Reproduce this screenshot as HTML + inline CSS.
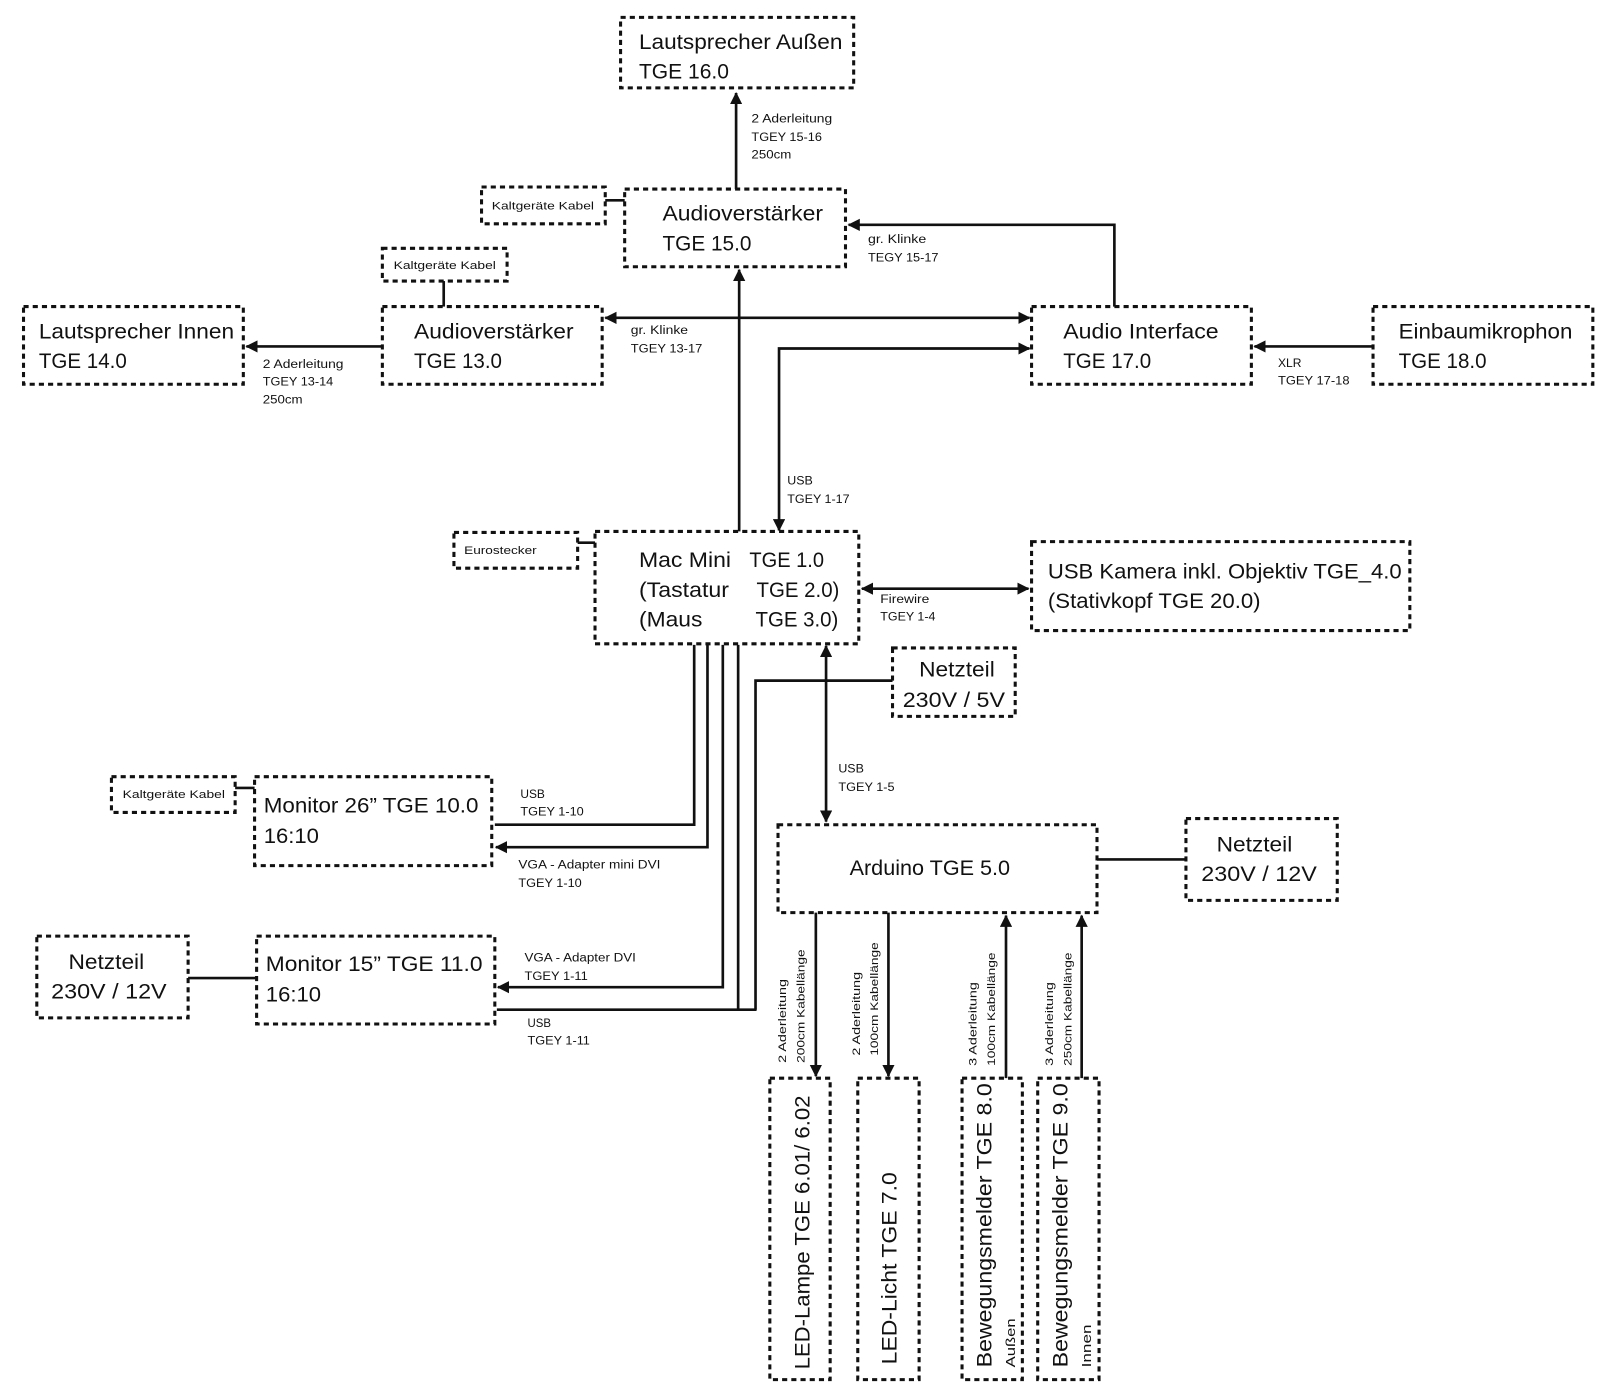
<!DOCTYPE html>
<html><head><meta charset="utf-8"><style>
html,body{margin:0;padding:0;background:#fff;}
svg{display:block;}
text{font-family:"Liberation Sans",sans-serif;fill:#111;}
.b{fill:none;stroke:#111;stroke-width:3;stroke-dasharray:5 4;}
.l{fill:none;stroke:#111;stroke-width:2.6;}
.t{font-size:20.5px;}
.s{font-size:11.5px;}
.k{font-size:11px;}
</style></head><body>
<svg width="1600" height="1396" viewBox="0 0 1565 1366" preserveAspectRatio="none" xmlns="http://www.w3.org/2000/svg">
<defs>
<marker id="h" viewBox="0 0 12 12" refX="11" refY="6" markerWidth="12" markerHeight="12" orient="auto-start-reverse" markerUnits="userSpaceOnUse"><path d="M0,0 L12,6 L0,12 z" fill="#111"/></marker>
</defs>

<rect class="b" x="607" y="17" width="228" height="69"/>
<rect class="b" x="471" y="183" width="121" height="36"/>
<rect class="b" x="611" y="185" width="216" height="76"/>
<rect class="b" x="374" y="243" width="122" height="32"/>
<rect class="b" x="23" y="300" width="215" height="76"/>
<rect class="b" x="374" y="300" width="215" height="76"/>
<rect class="b" x="1009" y="300" width="215" height="76"/>
<rect class="b" x="1343" y="300" width="215" height="76"/>
<rect class="b" x="444" y="521" width="121" height="35"/>
<rect class="b" x="582" y="520" width="258" height="110"/>
<rect class="b" x="1009" y="530" width="370" height="87"/>
<rect class="b" x="873" y="634" width="120" height="67"/>
<rect class="b" x="109" y="760" width="121" height="35"/>
<rect class="b" x="249" y="760" width="232" height="87"/>
<rect class="b" x="761" y="807" width="312" height="86"/>
<rect class="b" x="1160" y="801" width="148" height="80"/>
<rect class="b" x="36" y="916" width="148" height="80"/>
<rect class="b" x="251" y="916" width="233" height="86"/>
<rect class="b" x="753" y="1055" width="59" height="295"/>
<rect class="b" x="839" y="1055" width="60" height="295"/>
<rect class="b" x="941" y="1055" width="59" height="295"/>
<rect class="b" x="1015" y="1055" width="60" height="295"/>

<path class="l" d="M720,185 V91" marker-end="url(#h)"/>
<path class="l" d="M592,196 H611"/>
<path class="l" d="M1090,300 V220 H830" marker-end="url(#h)"/>
<path class="l" d="M434,275 V300"/>
<path class="l" d="M374,339 H241" marker-end="url(#h)"/>
<path class="l" d="M592,311 H1007" marker-start="url(#h)" marker-end="url(#h)"/>
<path class="l" d="M723,520 V264" marker-end="url(#h)"/>
<path class="l" d="M1343,339 H1227" marker-end="url(#h)"/>
<path class="l" d="M1007,341 H762 V519" marker-start="url(#h)" marker-end="url(#h)"/>
<path class="l" d="M565,531 H582"/>
<path class="l" d="M843,576 H1006" marker-start="url(#h)" marker-end="url(#h)"/>
<path class="l" d="M808,632 V804" marker-start="url(#h)" marker-end="url(#h)"/>
<path class="l" d="M873,666 H739 V988"/>
<path class="l" d="M679,631 V807 H484"/>
<path class="l" d="M692,631 V829 H485" marker-end="url(#h)"/>
<path class="l" d="M707,631 V966 H487" marker-end="url(#h)"/>
<path class="l" d="M722,631 V988"/>
<path class="l" d="M486,988 H740"/>
<path class="l" d="M230,771 H249"/>
<path class="l" d="M184,957 H251"/>
<path class="l" d="M1073,841 H1160"/>
<path class="l" d="M798,893 V1053" marker-end="url(#h)"/>
<path class="l" d="M869,893 V1053" marker-end="url(#h)"/>
<path class="l" d="M984,1055 V896" marker-end="url(#h)"/>
<path class="l" d="M1058,1055 V896" marker-end="url(#h)"/>

<g class="t">
<text x="625" y="48" textLength="199" lengthAdjust="spacingAndGlyphs">Lautsprecher Außen</text>
<text x="625" y="77" textLength="88" lengthAdjust="spacingAndGlyphs">TGE 16.0</text>
<text x="648" y="216" textLength="157" lengthAdjust="spacingAndGlyphs">Audioverstärker</text>
<text x="648" y="245" textLength="87" lengthAdjust="spacingAndGlyphs">TGE 15.0</text>
<text x="38" y="331" textLength="191" lengthAdjust="spacingAndGlyphs">Lautsprecher Innen</text>
<text x="38" y="360" textLength="86" lengthAdjust="spacingAndGlyphs">TGE 14.0</text>
<text x="405" y="331" textLength="156" lengthAdjust="spacingAndGlyphs">Audioverstärker</text>
<text x="405" y="360" textLength="86" lengthAdjust="spacingAndGlyphs">TGE 13.0</text>
<text x="1040" y="331" textLength="152" lengthAdjust="spacingAndGlyphs">Audio Interface</text>
<text x="1040" y="360" textLength="86" lengthAdjust="spacingAndGlyphs">TGE 17.0</text>
<text x="1368" y="331" textLength="170" lengthAdjust="spacingAndGlyphs">Einbaumikrophon</text>
<text x="1368" y="360" textLength="86" lengthAdjust="spacingAndGlyphs">TGE 18.0</text>
<text x="625" y="555" textLength="90" lengthAdjust="spacingAndGlyphs">Mac Mini</text>
<text x="733" y="555" textLength="73" lengthAdjust="spacingAndGlyphs">TGE 1.0</text>
<text x="625" y="584" textLength="88" lengthAdjust="spacingAndGlyphs">(Tastatur</text>
<text x="740" y="584" textLength="81" lengthAdjust="spacingAndGlyphs">TGE 2.0)</text>
<text x="625" y="613" textLength="62" lengthAdjust="spacingAndGlyphs">(Maus</text>
<text x="739" y="613" textLength="81" lengthAdjust="spacingAndGlyphs">TGE 3.0)</text>
<text x="1025" y="566" textLength="346" lengthAdjust="spacingAndGlyphs">USB Kamera inkl. Objektiv TGE_4.0</text>
<text x="1025" y="595" textLength="208" lengthAdjust="spacingAndGlyphs">(Stativkopf TGE 20.0)</text>
<text x="899" y="662" textLength="74" lengthAdjust="spacingAndGlyphs">Netzteil</text>
<text x="883" y="692" textLength="100" lengthAdjust="spacingAndGlyphs">230V / 5V</text>
<text x="258" y="795" textLength="210" lengthAdjust="spacingAndGlyphs">Monitor 26” TGE 10.0</text>
<text x="258" y="825" textLength="54" lengthAdjust="spacingAndGlyphs">16:10</text>
<text x="831" y="856" textLength="157" lengthAdjust="spacingAndGlyphs">Arduino TGE 5.0</text>
<text x="1190" y="833" textLength="74" lengthAdjust="spacingAndGlyphs">Netzteil</text>
<text x="1175" y="862" textLength="113" lengthAdjust="spacingAndGlyphs">230V / 12V</text>
<text x="67" y="948" textLength="74" lengthAdjust="spacingAndGlyphs">Netzteil</text>
<text x="50" y="977" textLength="113" lengthAdjust="spacingAndGlyphs">230V / 12V</text>
<text x="260" y="950" textLength="212" lengthAdjust="spacingAndGlyphs">Monitor 15” TGE 11.0</text>
<text x="260" y="980" textLength="54" lengthAdjust="spacingAndGlyphs">16:10</text>
<text transform="translate(792,1340) rotate(-90)" textLength="268" lengthAdjust="spacingAndGlyphs">LED-Lampe TGE 6.01/ 6.02</text>
<text transform="translate(877,1335) rotate(-90)" textLength="188" lengthAdjust="spacingAndGlyphs">LED-Licht  TGE 7.0</text>
<text transform="translate(970,1338) rotate(-90)" textLength="278" lengthAdjust="spacingAndGlyphs">Bewegungsmelder TGE 8.0</text>
<text transform="translate(1044,1338) rotate(-90)" textLength="278" lengthAdjust="spacingAndGlyphs">Bewegungsmelder TGE 9.0</text>
</g>
<g style="font-size:13px">
<text transform="translate(993,1338) rotate(-90)" textLength="48" lengthAdjust="spacingAndGlyphs">Außen</text>
<text transform="translate(1067,1338) rotate(-90)" textLength="42" lengthAdjust="spacingAndGlyphs">Innen</text>
</g>

<g class="k">
<text x="481" y="205" textLength="100" lengthAdjust="spacingAndGlyphs">Kaltgeräte Kabel</text>
<text x="385" y="263" textLength="100" lengthAdjust="spacingAndGlyphs">Kaltgeräte Kabel</text>
<text x="454" y="542" textLength="71" lengthAdjust="spacingAndGlyphs">Eurostecker</text>
<text x="120" y="781" textLength="100" lengthAdjust="spacingAndGlyphs">Kaltgeräte Kabel</text>
</g>

<g class="s">
<text x="735" y="120" textLength="79" lengthAdjust="spacingAndGlyphs">2 Aderleitung</text>
<text x="735" y="138" textLength="69" lengthAdjust="spacingAndGlyphs">TGEY 15-16</text>
<text x="735" y="155" textLength="39" lengthAdjust="spacingAndGlyphs">250cm</text>
<text x="849" y="238" textLength="57" lengthAdjust="spacingAndGlyphs">gr. Klinke</text>
<text x="849" y="256" textLength="69" lengthAdjust="spacingAndGlyphs">TEGY 15-17</text>
<text x="617" y="327" textLength="56" lengthAdjust="spacingAndGlyphs">gr. Klinke</text>
<text x="617" y="345" textLength="70" lengthAdjust="spacingAndGlyphs">TGEY 13-17</text>
<text x="257" y="360" textLength="79" lengthAdjust="spacingAndGlyphs">2 Aderleitung</text>
<text x="257" y="377" textLength="69" lengthAdjust="spacingAndGlyphs">TGEY 13-14</text>
<text x="257" y="395" textLength="39" lengthAdjust="spacingAndGlyphs">250cm</text>
<text x="1250" y="359" textLength="23" lengthAdjust="spacingAndGlyphs">XLR</text>
<text x="1250" y="376" textLength="70" lengthAdjust="spacingAndGlyphs">TGEY 17-18</text>
<text x="770" y="474" textLength="25" lengthAdjust="spacingAndGlyphs">USB</text>
<text x="770" y="492" textLength="61" lengthAdjust="spacingAndGlyphs">TGEY 1-17</text>
<text x="861" y="590" textLength="48" lengthAdjust="spacingAndGlyphs">Firewire</text>
<text x="861" y="607" textLength="54" lengthAdjust="spacingAndGlyphs">TGEY 1-4</text>
<text x="820" y="756" textLength="25" lengthAdjust="spacingAndGlyphs">USB</text>
<text x="820" y="774" textLength="55" lengthAdjust="spacingAndGlyphs">TGEY 1-5</text>
<text x="509" y="781" textLength="24" lengthAdjust="spacingAndGlyphs">USB</text>
<text x="509" y="798" textLength="62" lengthAdjust="spacingAndGlyphs">TGEY 1-10</text>
<text x="507" y="850" textLength="139" lengthAdjust="spacingAndGlyphs">VGA - Adapter mini DVI</text>
<text x="507" y="868" textLength="62" lengthAdjust="spacingAndGlyphs">TGEY 1-10</text>
<text x="513" y="941" textLength="109" lengthAdjust="spacingAndGlyphs">VGA - Adapter DVI</text>
<text x="513" y="959" textLength="62" lengthAdjust="spacingAndGlyphs">TGEY 1-11</text>
<text x="516" y="1005" textLength="23" lengthAdjust="spacingAndGlyphs">USB</text>
<text x="516" y="1022" textLength="61" lengthAdjust="spacingAndGlyphs">TGEY 1-11</text>
</g>
<g style="font-size:11px">
<text transform="translate(769,1040) rotate(-90)" textLength="82" lengthAdjust="spacingAndGlyphs">2 Aderleitung</text>
<text transform="translate(787,1040) rotate(-90)" textLength="111" lengthAdjust="spacingAndGlyphs">200cm Kabellänge</text>
<text transform="translate(841,1033) rotate(-90)" textLength="82" lengthAdjust="spacingAndGlyphs">2 Aderleitung</text>
<text transform="translate(859,1033) rotate(-90)" textLength="111" lengthAdjust="spacingAndGlyphs">100cm Kabellänge</text>
<text transform="translate(955,1043) rotate(-90)" textLength="82" lengthAdjust="spacingAndGlyphs">3 Aderleitung</text>
<text transform="translate(973,1043) rotate(-90)" textLength="111" lengthAdjust="spacingAndGlyphs">100cm Kabellänge</text>
<text transform="translate(1030,1043) rotate(-90)" textLength="82" lengthAdjust="spacingAndGlyphs">3 Aderleitung</text>
<text transform="translate(1048,1043) rotate(-90)" textLength="111" lengthAdjust="spacingAndGlyphs">250cm Kabellänge</text>
</g>
</svg>
</body></html>
